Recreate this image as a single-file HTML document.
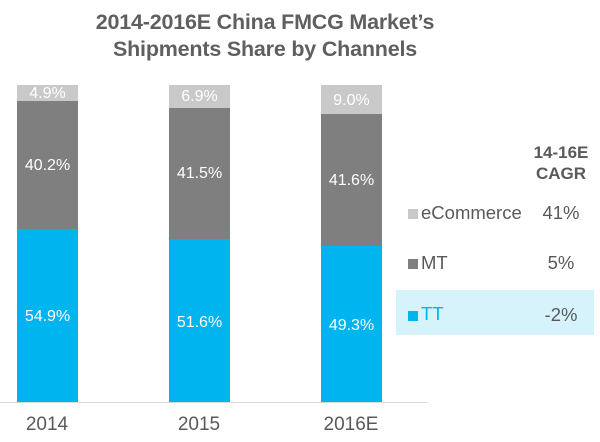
<!DOCTYPE html>
<html><head><meta charset="utf-8"><style>
body{margin:0;width:600px;height:442px;background:#fff;font-family:"Liberation Sans",Arial,sans-serif;overflow:hidden;position:relative}
.a{position:absolute}
.t{left:0;width:530px;text-align:center;color:#5f5f5f;font-weight:bold;font-size:21.5px;line-height:27px;top:9px;letter-spacing:-0.2px}
.bar{position:absolute;width:61px}
.lbl{position:absolute;width:61px;text-align:center;color:#fff;font-size:16px;transform:translateY(-50%)}
.x{position:absolute;width:100px;text-align:center;color:#595959;font-size:19px;top:414px}
.leg{position:absolute;font-size:18.5px;color:#595959}
.sq{position:absolute;width:10px;height:10px}
</style></head><body>
<div class="a t">2014-2016E China FMCG Market’s<br>Shipments Share by Channels</div>

<div class="bar" style="left:17px;top:85px;height:16px;background:#c9c9c9"></div>
<div class="bar" style="left:17px;top:101px;height:128px;background:#7f7f7f"></div>
<div class="bar" style="left:17px;top:229px;height:173px;background:#00b4ef"></div>
<div class="lbl" style="left:17px;top:94px">4.9%</div>
<div class="lbl" style="left:17px;top:166px">40.2%</div>
<div class="lbl" style="left:17px;top:317px">54.9%</div>

<div class="bar" style="left:169px;top:85px;height:23px;background:#c9c9c9"></div>
<div class="bar" style="left:169px;top:108px;height:131px;background:#7f7f7f"></div>
<div class="bar" style="left:169px;top:239px;height:163px;background:#00b4ef"></div>
<div class="lbl" style="left:169px;top:97px">6.9%</div>
<div class="lbl" style="left:169px;top:174px">41.5%</div>
<div class="lbl" style="left:169px;top:323px">51.6%</div>

<div class="bar" style="left:321px;top:85px;height:29px;background:#c9c9c9"></div>
<div class="bar" style="left:321px;top:114px;height:132px;background:#7f7f7f"></div>
<div class="bar" style="left:321px;top:246px;height:156px;background:#00b4ef"></div>
<div class="lbl" style="left:321px;top:101px">9.0%</div>
<div class="lbl" style="left:321px;top:181px">41.6%</div>
<div class="lbl" style="left:321px;top:326px">49.3%</div>

<div class="a" style="left:0;top:402px;width:427px;height:1px;background:#d9d9d9"></div>
<div class="x" style="left:-3px">2014</div>
<div class="x" style="left:149px">2015</div>
<div class="x" style="left:301px">2016E</div>

<div class="a" style="left:396px;top:290px;width:198px;height:45px;background:#d6f2fb"></div>
<div class="a" style="left:518px;top:142px;width:86px;text-align:center;color:#595959;font-weight:bold;font-size:17px;line-height:21px">14-16E<br>CAGR</div>
<div class="sq" style="left:408px;top:209px;background:#c9c9c9"></div>
<div class="leg" style="left:421px;top:202px">eCommerce</div>
<div class="leg" style="left:531px;top:202px;width:60px;text-align:center">41%</div>
<div class="sq" style="left:408px;top:259px;background:#7f7f7f"></div>
<div class="leg" style="left:421px;top:252px">MT</div>
<div class="leg" style="left:531px;top:252px;width:60px;text-align:center">5%</div>
<div class="sq" style="left:408px;top:311px;background:#00b4ef"></div>
<div class="leg" style="left:421px;top:303px;color:#00b4ef">TT</div>
<div class="leg" style="left:531px;top:304px;width:60px;text-align:center">-2%</div>
</body></html>
